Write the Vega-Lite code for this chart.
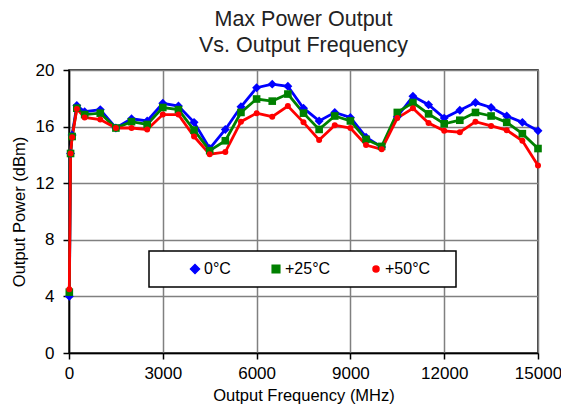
{
  "$schema": "https://vega.github.io/schema/vega-lite/v6.json",
  "width": 469,
  "height": 283,
  "autosize": {"type": "none"},
  "padding": {"left": 69, "top": 70, "right": 23, "bottom": 57},
  "background": "white",
  "config": {
    "font": "Liberation Sans",
    "view": {"stroke": "black", "strokeWidth": 1.5},
    "legend": {"strokeWidth": 1.5},
    "axis": {
      "labelFont": "Liberation Sans",
      "labelFontSize": 17,
      "labelColor": "black",
      "labelFlush": false,
      "titleFont": "Liberation Sans",
      "titleFontSize": 16.5,
      "titleFontWeight": "normal",
      "titleColor": "black",
      "domainColor": "black",
      "domainWidth": 1.5,
      "tickColor": "black",
      "tickWidth": 1.5,
      "tickSize": 6,
      "gridColor": "#808080",
      "gridWidth": 1.5,
      "gridOpacity": 1
    }
  },
  "title": {
    "text": ["Max  Power Output", "Vs. Output Frequency"],
    "font": "Liberation Sans",
    "fontSize": 21.5,
    "fontWeight": "normal",
    "color": "#222222",
    "lineHeight": 26,
    "anchor": "middle",
    "frame": "group",
    "baseline": "alphabetic",
    "offset": -12
  },
  "data": {
    "values": [
      {"f": 10, "p": 4.0, "s": "0°C"},
      {"f": 50, "p": 14.1, "s": "0°C"},
      {"f": 100, "p": 15.4, "s": "0°C"},
      {"f": 250, "p": 17.5, "s": "0°C"},
      {"f": 500, "p": 17.05, "s": "0°C"},
      {"f": 1000, "p": 17.2, "s": "0°C"},
      {"f": 1500, "p": 15.9, "s": "0°C"},
      {"f": 2000, "p": 16.55, "s": "0°C"},
      {"f": 2500, "p": 16.4, "s": "0°C"},
      {"f": 3000, "p": 17.65, "s": "0°C"},
      {"f": 3500, "p": 17.45, "s": "0°C"},
      {"f": 4000, "p": 16.3, "s": "0°C"},
      {"f": 4500, "p": 14.45, "s": "0°C"},
      {"f": 5000, "p": 15.8, "s": "0°C"},
      {"f": 5500, "p": 17.4, "s": "0°C"},
      {"f": 6000, "p": 18.75, "s": "0°C"},
      {"f": 6500, "p": 19.0, "s": "0°C"},
      {"f": 7000, "p": 18.85, "s": "0°C"},
      {"f": 7500, "p": 17.3, "s": "0°C"},
      {"f": 8000, "p": 16.4, "s": "0°C"},
      {"f": 8500, "p": 17.0, "s": "0°C"},
      {"f": 9000, "p": 16.65, "s": "0°C"},
      {"f": 9500, "p": 15.25, "s": "0°C"},
      {"f": 10000, "p": 14.55, "s": "0°C"},
      {"f": 10500, "p": 16.7, "s": "0°C"},
      {"f": 11000, "p": 18.15, "s": "0°C"},
      {"f": 11500, "p": 17.55, "s": "0°C"},
      {"f": 12000, "p": 16.6, "s": "0°C"},
      {"f": 12500, "p": 17.15, "s": "0°C"},
      {"f": 13000, "p": 17.7, "s": "0°C"},
      {"f": 13500, "p": 17.35, "s": "0°C"},
      {"f": 14000, "p": 16.75, "s": "0°C"},
      {"f": 14500, "p": 16.3, "s": "0°C"},
      {"f": 15000, "p": 15.7, "s": "0°C"},
      {"f": 10, "p": 4.3, "s": "+25°C"},
      {"f": 50, "p": 14.1, "s": "+25°C"},
      {"f": 100, "p": 15.3, "s": "+25°C"},
      {"f": 250, "p": 17.3, "s": "+25°C"},
      {"f": 500, "p": 16.85, "s": "+25°C"},
      {"f": 1000, "p": 16.95, "s": "+25°C"},
      {"f": 1500, "p": 15.9, "s": "+25°C"},
      {"f": 2000, "p": 16.35, "s": "+25°C"},
      {"f": 2500, "p": 16.15, "s": "+25°C"},
      {"f": 3000, "p": 17.35, "s": "+25°C"},
      {"f": 3500, "p": 17.2, "s": "+25°C"},
      {"f": 4000, "p": 15.75, "s": "+25°C"},
      {"f": 4500, "p": 14.3, "s": "+25°C"},
      {"f": 5000, "p": 15.0, "s": "+25°C"},
      {"f": 5500, "p": 17.0, "s": "+25°C"},
      {"f": 6000, "p": 17.95, "s": "+25°C"},
      {"f": 6500, "p": 17.8, "s": "+25°C"},
      {"f": 7000, "p": 18.3, "s": "+25°C"},
      {"f": 7500, "p": 16.95, "s": "+25°C"},
      {"f": 8000, "p": 15.8, "s": "+25°C"},
      {"f": 8500, "p": 16.75, "s": "+25°C"},
      {"f": 9000, "p": 16.4, "s": "+25°C"},
      {"f": 9500, "p": 15.1, "s": "+25°C"},
      {"f": 10000, "p": 14.6, "s": "+25°C"},
      {"f": 10500, "p": 17.0, "s": "+25°C"},
      {"f": 11000, "p": 17.7, "s": "+25°C"},
      {"f": 11500, "p": 16.9, "s": "+25°C"},
      {"f": 12000, "p": 16.2, "s": "+25°C"},
      {"f": 12500, "p": 16.45, "s": "+25°C"},
      {"f": 13000, "p": 17.0, "s": "+25°C"},
      {"f": 13500, "p": 16.75, "s": "+25°C"},
      {"f": 14000, "p": 16.3, "s": "+25°C"},
      {"f": 14500, "p": 15.5, "s": "+25°C"},
      {"f": 15000, "p": 14.45, "s": "+25°C"},
      {"f": 10, "p": 4.5, "s": "+50°C"},
      {"f": 50, "p": 14.1, "s": "+50°C"},
      {"f": 100, "p": 15.25, "s": "+50°C"},
      {"f": 250, "p": 17.25, "s": "+50°C"},
      {"f": 500, "p": 16.65, "s": "+50°C"},
      {"f": 1000, "p": 16.5, "s": "+50°C"},
      {"f": 1500, "p": 15.9, "s": "+50°C"},
      {"f": 2000, "p": 15.9, "s": "+50°C"},
      {"f": 2500, "p": 15.8, "s": "+50°C"},
      {"f": 3000, "p": 16.85, "s": "+50°C"},
      {"f": 3500, "p": 16.85, "s": "+50°C"},
      {"f": 4000, "p": 15.3, "s": "+50°C"},
      {"f": 4500, "p": 14.05, "s": "+50°C"},
      {"f": 5000, "p": 14.2, "s": "+50°C"},
      {"f": 5500, "p": 16.35, "s": "+50°C"},
      {"f": 6000, "p": 16.95, "s": "+50°C"},
      {"f": 6500, "p": 16.7, "s": "+50°C"},
      {"f": 7000, "p": 17.45, "s": "+50°C"},
      {"f": 7500, "p": 16.3, "s": "+50°C"},
      {"f": 8000, "p": 15.05, "s": "+50°C"},
      {"f": 8500, "p": 16.1, "s": "+50°C"},
      {"f": 9000, "p": 15.9, "s": "+50°C"},
      {"f": 9500, "p": 14.7, "s": "+50°C"},
      {"f": 10000, "p": 14.4, "s": "+50°C"},
      {"f": 10500, "p": 16.6, "s": "+50°C"},
      {"f": 11000, "p": 17.3, "s": "+50°C"},
      {"f": 11500, "p": 16.25, "s": "+50°C"},
      {"f": 12000, "p": 15.7, "s": "+50°C"},
      {"f": 12500, "p": 15.6, "s": "+50°C"},
      {"f": 13000, "p": 16.35, "s": "+50°C"},
      {"f": 13500, "p": 16.05, "s": "+50°C"},
      {"f": 14000, "p": 15.75, "s": "+50°C"},
      {"f": 14500, "p": 15.0, "s": "+50°C"},
      {"f": 15000, "p": 13.25, "s": "+50°C"}
    ]
  },
  "encoding": {
    "x": {
      "field": "f",
      "type": "quantitative",
      "scale": {"domain": [0, 15000], "nice": false},
      "axis": {
        "title": "Output Frequency (MHz)",
        "values": [0, 3000, 6000, 9000, 12000, 15000],
        "format": "d",
        "labelPadding": 6,
        "titlePadding": 6
      }
    },
    "y": {
      "field": "p",
      "type": "quantitative",
      "scale": {"domain": [0, 20], "nice": false},
      "axis": {
        "title": "Output Power (dBm)",
        "values": [0, 4, 8, 12, 16, 20],
        "labelPadding": 9,
        "titlePadding": 8
      }
    },
    "color": {
      "field": "s",
      "type": "nominal",
      "scale": {"domain": ["0°C", "+25°C", "+50°C"], "range": ["#0000FF", "#008000", "#FF0000"]},
      "legend": {
        "title": "\u2002",
        "titleOrient": "right",
        "titlePadding": 16,
        "titleFontSize": 16,
        "orient": "none",
        "legendX": 80,
        "legendY": 181,
        "direction": "horizontal",
        "fillColor": "white",
        "strokeColor": "black",
        "padding": 10,
        "symbolOffset": 28,
        "columnPadding": 9,
        "labelFont": "Liberation Sans",
        "labelFontSize": 16,
        "labelColor": "black",
        "labelOffset": 1,
        "symbolSize": 110
      }
    }
  },
  "layer": [
    {
      "mark": {"type": "line", "strokeWidth": 2.8}
    },
    {
      "mark": {"type": "point", "filled": true, "opacity": 1},
      "encoding": {
        "shape": {
          "field": "s",
          "type": "nominal",
          "scale": {"domain": ["0°C", "+25°C", "+50°C"], "range": ["diamond", "square", "circle"]},
          "legend": null
        },
        "size": {
          "field": "s",
          "type": "nominal",
          "scale": {"domain": ["0°C", "+25°C", "+50°C"], "range": [80, 36, 120]},
          "legend": null
        }
      }
    }
  ]
}
